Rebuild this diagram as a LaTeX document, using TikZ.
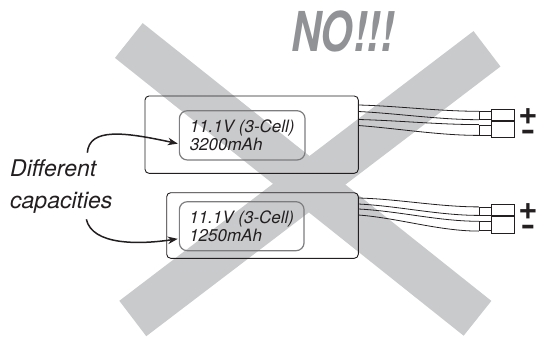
\documentclass[tikz,border=0pt]{standalone}
\usepackage{graphicx}
\usepackage{fontspec}
\setmainfont{TeX Gyre Heros}
\usepackage{tikz}
\usetikzlibrary{arrows.meta}

\definecolor{crossgray}{RGB}{201,202,204}
\definecolor{warngray}{RGB}{145,146,150}
\definecolor{inkblack}{RGB}{35,31,32}
\definecolor{tagline}{RGB}{125,125,128}

\begin{document}
\begin{tikzpicture}[x=1pt, y=-1pt,
    cross/.style={crossgray, line width=44.5pt},
    pack/.style={draw=inkblack, line width=0.9pt, rounded corners=4pt, inner sep=0pt},
    tag/.style={draw=tagline, line width=1.2pt, rounded corners=8pt, inner sep=0pt,
        align=left, text=inkblack, font=\itshape\fontsize{17}{18.3}\selectfont},
    pin/.style={draw=inkblack, line width=0.8pt, inner sep=0pt, minimum width=11.7pt},
    plug/.style={draw=inkblack, line width=0.8pt, inner sep=0pt, minimum width=23pt},
    lead/.style={inkblack, line width=0.8pt},
    pointer/.style={-{Stealth[length=10pt, width=7.5pt]}, line width=1.5pt, inkblack, shorten >=1pt},
    sign/.style={anchor=north, inner sep=0pt, align=center, text=inkblack,
        font=\bfseries\fontsize{33}{33}\selectfont}]
    \useasboundingbox (0,0) rectangle (537,337);

    % Big grey X
    \draw[cross] (128.8,40.5) -- (477.5,318.3);
    \draw[cross] (487,48.8) -- (132.8,318.5);
    \node[anchor=base west, inner sep=0pt, text=warngray,
        font=\bfseries\itshape\fontsize{55}{55}\selectfont] (no) at (291,51.7) {\scalebox{0.75}[1]{NO!!!}};

    % Top pack
    \node[pack, minimum width=213.3pt, minimum height=77.3pt] (bat1) at (251.65,134.65) {};
    \node[tag, minimum width=125.7pt, minimum height=49.3pt] (lab1) at (242.2,135.35) {11.1V (3-Cell)\\3200mAh};
    \node[pin, minimum height=7.6pt] (pin1a) at (485.15,115.5) {};
    \node[pin, minimum height=10pt] (pin1b) at (485.15,130) {};
    \node[plug, minimum height=11pt] (plug1a) at (502.5,115) {};
    \node[plug, minimum height=16pt] (plug1b) at (502.5,129.5) {};
    \coordinate (w1a) at (358.3,105);
    \coordinate (w1b) at (358.3,111.5);
    \coordinate (w1c) at (358.3,119.5);
    \coordinate (w1d) at (358.3,125.5);
    \draw[lead] (w1a) .. controls +(40,1) and +(-40,0) .. (pin1a.north west);
    \draw[lead] (w1b) .. controls +(40,2) and +(-40,0) .. (pin1a.south west);
    \draw[lead] (w1c) .. controls +(40,1) and +(-40,0) .. (pin1b.north west);
    \draw[lead] (w1d) .. controls +(40,3) and +(-40,0) .. (pin1b.south west);
    \node[sign] (pole1) at (528,108.7) {+\\[-18.8pt]{\fontsize{27}{27}\selectfont\scalebox{1.5}[1]{-}}};

    % Bottom pack
    \node[pack, minimum width=191.6pt, minimum height=65.6pt] (bat2) at (262.5,225.5) {};
    \node[tag, minimum width=124.7pt, minimum height=49pt] (lab2) at (241.7,226.2) {11.1V (3-Cell)\\1250mAh};
    \node[pin, minimum height=7.7pt] (pin2a) at (485.15,211.15) {};
    \node[pin, minimum height=9pt] (pin2b) at (485.15,226.2) {};
    \node[plug, minimum height=11.5pt] (plug2a) at (502.75,209.75) {};
    \node[plug, minimum height=16.8pt] (plug2b) at (502.75,224.9) {};
    \coordinate (w2a) at (358.3,198);
    \coordinate (w2b) at (358.3,204);
    \coordinate (w2c) at (358.3,209);
    \coordinate (w2d) at (358.3,215);
    \draw[lead] (w2a) .. controls +(40,1) and +(-40,0) .. (pin2a.north west);
    \draw[lead] (w2b) .. controls +(40,2) and +(-40,0) .. (pin2a.south west);
    \draw[lead] (w2c) .. controls +(40,2) and +(-40,0) .. (pin2b.north west);
    \draw[lead] (w2d) .. controls +(40,3) and +(-40,0) .. (pin2b.south west);
    \node[sign] (pole2) at (528,203.7) {+\\[-18.8pt]{\fontsize{27}{27}\selectfont\scalebox{1.5}[1]{-}}};

    % Callout
    \node[anchor=west, inner sep=0pt, align=left, text=inkblack,
        font=\itshape\fontsize{23}{31.5}\selectfont] (caps) at (10,186.5) {Different\\capacities};
    \draw[pointer] ([xshift=26pt, yshift=7pt]caps.north) .. controls +(2,-25) and +(-55,-12) .. ([yshift=-8.5pt]lab1.west);
    \draw[pointer] ([xshift=25pt, yshift=-6pt]caps.south) .. controls +(6,26) and +(-40,6) .. ([yshift=-12.5pt]lab2.west);
\end{tikzpicture}
\end{document}
